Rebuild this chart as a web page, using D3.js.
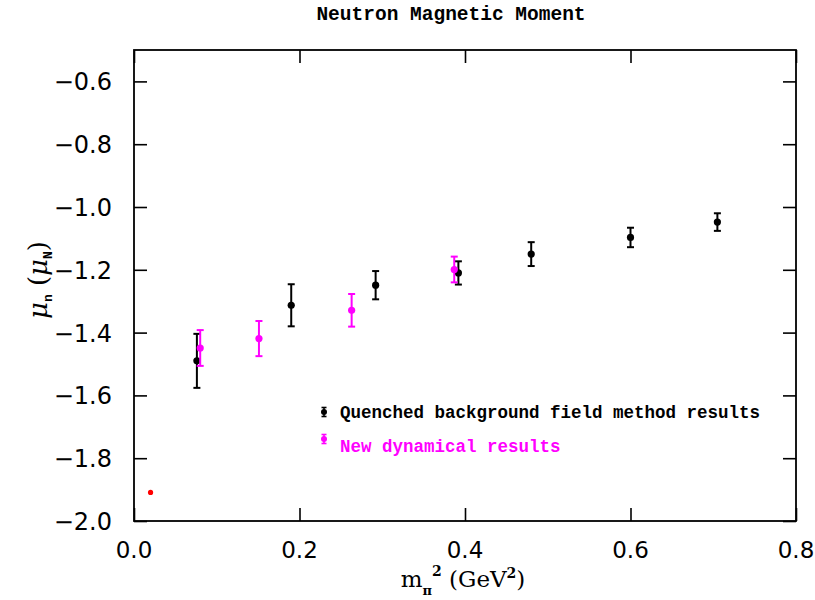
<!DOCTYPE html>
<html>
<head>
<meta charset="utf-8">
<script src="https://cdn.jsdelivr.net/npm/d3@7"></script>
<style>
  body { margin: 0; background: #fff; }
</style>
</head>
<body>
<div id="chart"></div>
<script>
// quenched background field method results
var quenchedX = [0.076, 0.190, 0.292, 0.392, 0.480, 0.600, 0.705];
var quenchedY = [-1.490, -1.313, -1.249, -1.210, -1.150, -1.097, -1.048];
var quenchedErr = [0.086, 0.067, 0.045, 0.037, 0.038, 0.031, 0.028];

// new dynamical results
var dynX = [0.080, 0.151, 0.263, 0.387];
var dynY = [-1.449, -1.419, -1.329, -1.199];
var dynErr = [0.057, 0.056, 0.052, 0.041];

// physical point
var physX = [0.020];
var physY = [-1.909];

var xTicks = [0.0, 0.2, 0.4, 0.6, 0.8];
var yTicks = [-2.0, -1.8, -1.6, -1.4, -1.2, -1.0, -0.8, -0.6];

var legendLabels = ["Quenched background field method results", "New dynamical results"];
var legendColors = ["black", "magenta"];

(function() {

var width = 815, height = 600,
    pLeft = 134, pRight = 796, pTop = 50, pBottom = 521,
    tickLen = 13;

var svg = d3.select("#chart").append("svg")
    .attr("width", width)
    .attr("height", height);

var x = d3.scaleLinear().domain([0, 0.8]).range([pLeft, pRight]);
var y = d3.scaleLinear().domain([-2.0, -0.5]).range([pBottom, pTop]);

// axes with inward ticks, labels drawn separately
var fmtX = d3.format(".1f");
var fmtY = function(d) { return d3.format(".1f")(d).replace("-", "\u2212"); };

svg.append("g").attr("transform", "translate(0," + pBottom + ")")
    .call(d3.axisTop(x).tickValues(xTicks).tickSize(tickLen).tickFormat(""));
svg.append("g").attr("transform", "translate(0," + pTop + ")")
    .call(d3.axisBottom(x).tickValues(xTicks).tickSize(tickLen).tickFormat(""));
svg.append("g").attr("transform", "translate(" + pLeft + ",0)")
    .call(d3.axisRight(y).tickValues(yTicks).tickSize(tickLen).tickFormat(""));
svg.append("g").attr("transform", "translate(" + pRight + ",0)")
    .call(d3.axisLeft(y).tickValues(yTicks).tickSize(tickLen).tickFormat(""));

svg.selectAll(".domain").remove();
svg.selectAll(".tick line").style("stroke", "black").style("stroke-width", 1.6);

svg.append("rect")
    .attr("x", pLeft)
    .attr("y", pTop)
    .attr("width", pRight - pLeft)
    .attr("height", pBottom - pTop)
    .style("fill", "none")
    .style("stroke", "black")
    .style("stroke-width", 1.8);

// tick labels
svg.selectAll("text.xlab")
    .data(xTicks)
    .enter().append("text")
        .attr("class", "xlab")
        .attr("x", function(d) { return x(d); })
        .attr("y", 558)
        .attr("text-anchor", "middle")
        .style("font-family", "'DejaVu Sans', sans-serif")
        .style("font-size", "23px")
        .text(fmtX);

svg.selectAll("text.ylab")
    .data(yTicks)
    .enter().append("text")
        .attr("class", "ylab")
        .attr("x", 112)
        .attr("y", function(d) { return y(d) + 9; })
        .attr("text-anchor", "end")
        .style("font-family", "'DejaVu Sans', sans-serif")
        .style("font-size", "24px")
        .text(fmtY);

// title
svg.append("text")
    .attr("x", 451)
    .attr("y", 20)
    .attr("text-anchor", "middle")
    .style("font-family", "'Liberation Mono', monospace")
    .style("font-weight", "bold")
    .style("font-size", "19.5px")
    .text("Neutron Magnetic Moment");

// x axis title
var xt = svg.append("text")
    .attr("x", 463)
    .attr("y", 587)
    .attr("text-anchor", "middle")
    .style("font-family", "'DejaVu Serif', serif")
    .style("font-size", "23px");
xt.append("tspan").text("m");
xt.append("tspan").attr("dy", 8).style("font-size", "13px").style("font-weight", "bold").text("\u03c0");
xt.append("tspan").attr("dy", -19).style("font-size", "14px").style("font-weight", "bold").text("2");
xt.append("tspan").attr("dy", 11).text(" (GeV");
xt.append("tspan").attr("dy", -9).style("font-size", "14px").style("font-weight", "bold").text("2");
xt.append("tspan").attr("dy", 9).text(")");

// y axis title
var yt = svg.append("text")
    .attr("transform", "translate(47,280) rotate(-90)")
    .attr("text-anchor", "middle")
    .style("font-family", "'DejaVu Serif', serif")
    .style("font-size", "26px");
yt.append("tspan").style("font-style", "italic").text("\u03bc");
yt.append("tspan").attr("dy", 5).style("font-size", "13px").style("font-weight", "bold")
    .style("font-family", "'Liberation Mono', monospace").text("n");
yt.append("tspan").attr("dy", -5).text(" (");
yt.append("tspan").style("font-style", "italic").text("\u03bc");
yt.append("tspan").attr("dy", 5).style("font-size", "13px").style("font-weight", "bold")
    .style("font-family", "'Liberation Mono', monospace").text("N");
yt.append("tspan").attr("dy", -5).text(")");

// error bar helper
function drawSeries(cls, xs, ys, errs, color) {
    var data = xs.map(function(d, i) { return {x: d, y: ys[i], e: errs[i]}; });
    var g = svg.append("g").attr("class", cls);
    var cap = 3.5;

    g.selectAll("line.bar").data(data).enter().append("line")
        .attr("class", "bar")
        .attr("x1", function(d) { return x(d.x); })
        .attr("x2", function(d) { return x(d.x); })
        .attr("y1", function(d) { return y(d.y + d.e); })
        .attr("y2", function(d) { return y(d.y - d.e); })
        .style("stroke", color).style("stroke-width", 2);
    g.selectAll("line.capt").data(data).enter().append("line")
        .attr("class", "capt")
        .attr("x1", function(d) { return x(d.x) - cap; })
        .attr("x2", function(d) { return x(d.x) + cap; })
        .attr("y1", function(d) { return y(d.y + d.e); })
        .attr("y2", function(d) { return y(d.y + d.e); })
        .style("stroke", color).style("stroke-width", 2);
    g.selectAll("line.capb").data(data).enter().append("line")
        .attr("class", "capb")
        .attr("x1", function(d) { return x(d.x) - cap; })
        .attr("x2", function(d) { return x(d.x) + cap; })
        .attr("y1", function(d) { return y(d.y - d.e); })
        .attr("y2", function(d) { return y(d.y - d.e); })
        .style("stroke", color).style("stroke-width", 2);
    g.selectAll("circle").data(data).enter().append("circle")
        .attr("cx", function(d) { return x(d.x); })
        .attr("cy", function(d) { return y(d.y); })
        .attr("r", 3.6)
        .style("fill", color);
}

drawSeries("quenched", quenchedX, quenchedY, quenchedErr, "black");
drawSeries("dynamical", dynX, dynY, dynErr, "magenta");

svg.selectAll("circle.phys")
    .data(physX)
    .enter().append("circle")
        .attr("class", "phys")
        .attr("cx", function(d) { return x(d); })
        .attr("cy", function(d, i) { return y(physY[i]); })
        .attr("r", 2.6)
        .style("fill", "red");

// legend: symbols and text rows are not spaced alike in the original
var symY = [412, 439], textY = [418, 452];

var legend = svg.selectAll("g.legend")
    .data(legendLabels)
    .enter().append("g")
        .attr("class", "legend");

legend.append("line")
    .attr("x1", 324).attr("x2", 324)
    .attr("y1", function(d, i) { return symY[i] - 4.5; })
    .attr("y2", function(d, i) { return symY[i] + 4.5; })
    .style("stroke", function(d, i) { return legendColors[i]; }).style("stroke-width", 1.6);
legend.append("line")
    .attr("x1", 321.5).attr("x2", 326.5)
    .attr("y1", function(d, i) { return symY[i] - 4.5; })
    .attr("y2", function(d, i) { return symY[i] - 4.5; })
    .style("stroke", function(d, i) { return legendColors[i]; }).style("stroke-width", 1.6);
legend.append("line")
    .attr("x1", 321.5).attr("x2", 326.5)
    .attr("y1", function(d, i) { return symY[i] + 4.5; })
    .attr("y2", function(d, i) { return symY[i] + 4.5; })
    .style("stroke", function(d, i) { return legendColors[i]; }).style("stroke-width", 1.6);
legend.append("circle")
    .attr("cx", 324)
    .attr("cy", function(d, i) { return symY[i]; })
    .attr("r", 3)
    .style("fill", function(d, i) { return legendColors[i]; });
legend.append("text")
    .attr("x", 340)
    .attr("y", function(d, i) { return textY[i]; })
    .style("font-family", "'Liberation Mono', monospace")
    .style("font-weight", "bold")
    .style("font-size", "17.5px")
    .style("fill", function(d, i) { return legendColors[i]; })
    .text(function(d) { return d; });

}());
</script>
</body>
</html>
